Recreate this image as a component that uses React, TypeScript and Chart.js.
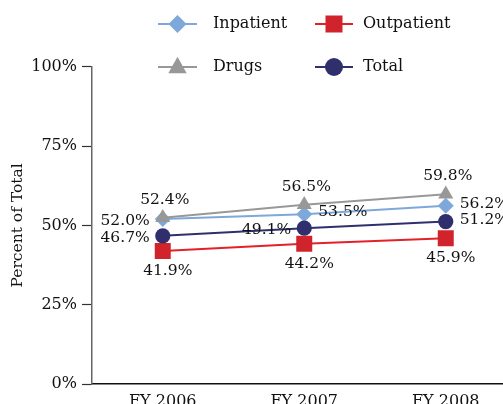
import React, { useEffect, useRef } from 'react';
import { Chart, registerables } from 'chart.js';

Chart.register(...registerables);

const categories = ['FY 2006', 'FY 2007', 'FY 2008'];
const seriesNames = ['Inpatient', 'Outpatient', 'Drugs', 'Total'];
const inpatient = [52.0, 53.5, 56.2];
const outpatient = [41.9, 44.2, 45.9];
const drugs = [52.4, 56.5, 59.8];
const total = [46.7, 49.1, 51.2];
const inpatientLabelPos = ['left', 'right', 'right'];
const outpatientLabelPos = ['below', 'below', 'below'];
const drugsLabelPos = ['above', 'above', 'above'];
const totalLabelPos = ['left', 'left', 'right'];
const yMin = 0;
const yMax = 100;
const yStep = 25;

const FONT = 'DejaVu Serif';
const TEXT = '#111111';
const C_IN = '#7ea8da';
const C_OUT_LINE = '#e52029';
const C_OUT = '#d0232c';
const C_DRUG = '#989898';
const C_TOT = '#2f2f6e';

const W = 530;
const H = 420;

function drawMarker(ctx: CanvasRenderingContext2D, style: string, x: number, y: number, r: number, color: string) {
  ctx.save();
  ctx.fillStyle = color;
  ctx.beginPath();
  if (style === 'circle') {
    ctx.arc(x, y, r, 0, Math.PI * 2);
  } else if (style === 'rect') {
    ctx.rect(x - r, y - r, 2 * r, 2 * r);
  } else if (style === 'rectRot') {
    ctx.moveTo(x - r, y);
    ctx.lineTo(x, y - r);
    ctx.lineTo(x + r, y);
    ctx.lineTo(x, y + r);
    ctx.closePath();
  } else if (style === 'triangle') {
    ctx.moveTo(x, y - r);
    ctx.lineTo(x + r, y + r * 0.78);
    ctx.lineTo(x - r, y + r * 0.78);
    ctx.closePath();
  }
  ctx.fill();
  ctx.restore();
}

const labelPlugin = {
  id: 'valueLabels',
  afterDatasetsDraw(chart: any) {
    const ctx = chart.ctx as CanvasRenderingContext2D;
    ctx.save();
    ctx.font = `15.5px "${FONT}"`;
    ctx.fillStyle = TEXT;
    ctx.textBaseline = 'middle';
    chart.data.datasets.forEach((ds: any, di: number) => {
      const meta = chart.getDatasetMeta(di);
      meta.data.forEach((pt: any, i: number) => {
        const v = ds.data[i] as number;
        const txt = v.toFixed(1) + '%';
        const pos = ds.labelPos[i];
        let x = pt.x;
        let y = pt.y;
        if (pos === 'above') {
          ctx.textAlign = 'center';
          x += 2;
          y -= 18;
        } else if (pos === 'below') {
          ctx.textAlign = 'center';
          x += 5;
          y += 20;
        } else if (pos === 'left') {
          ctx.textAlign = 'right';
          x -= 13;
          y += 2;
        } else {
          ctx.textAlign = 'left';
          x += 14;
          y -= 2;
        }
        ctx.fillText(txt, x, y);
      });
    });
    ctx.restore();
  },
};

const legendPlugin = {
  id: 'customLegend',
  afterDraw(chart: any) {
    const ctx = chart.ctx as CanvasRenderingContext2D;
    const cols = [
      { lx0: 158, lx1: 197, mx: 177.5, tx: 213 },
      { lx0: 315, lx1: 353, mx: 334, tx: 363 },
    ];
    const rows = [24, 67];
    const legendSizes: Record<string, number> = { rectRot: 9, rect: 8.5, circle: 9, triangle: 9.2 };
    ctx.save();
    chart.data.datasets.forEach((ds: any, i: number) => {
      const c = cols[i % 2];
      const y = rows[Math.floor(i / 2)];
      ctx.strokeStyle = ds.borderColor;
      ctx.lineWidth = 2;
      ctx.beginPath();
      ctx.moveTo(c.lx0, y);
      ctx.lineTo(c.lx1, y);
      ctx.stroke();
      const style = ds.pointStyle;
      const my = style === 'triangle' ? y - 1 : y;
      drawMarker(ctx, style, c.mx, my, legendSizes[style], ds.pointBackgroundColor);
      ctx.font = `16px "${FONT}"`;
      ctx.fillStyle = TEXT;
      ctx.textAlign = 'left';
      ctx.textBaseline = 'middle';
      ctx.fillText(ds.label, c.tx, y);
    });
    ctx.restore();
  },
};

export default function App() {
  const ref = useRef<HTMLCanvasElement | null>(null);

  useEffect(() => {
    if (!ref.current) return;
    const mk = (label: string, data: number[], pos: string[], line: string, fill: string, style: string, radius: number, order: number) => ({
      label,
      data,
      labelPos: pos,
      borderColor: line,
      backgroundColor: fill,
      pointBackgroundColor: fill,
      pointBorderColor: fill,
      pointBorderWidth: 0,
      pointStyle: style,
      pointRadius: radius,
      pointHoverRadius: radius,
      borderWidth: 2,
      tension: 0,
      order,
    });
    const chart = new Chart(ref.current, {
      type: 'line',
      data: {
        labels: categories,
        datasets: [
          mk(seriesNames[0], inpatient, inpatientLabelPos, C_IN, C_IN, 'rectRot', 8, 2),
          mk(seriesNames[1], outpatient, outpatientLabelPos, C_OUT_LINE, C_OUT, 'rect', 11.3, 3),
          mk(seriesNames[2], drugs, drugsLabelPos, C_DRUG, C_DRUG, 'triangle', 8.7, 1),
          mk(seriesNames[3], total, totalLabelPos, C_TOT, C_TOT, 'circle', 7.6, 0),
        ] as any,
      },
      options: {
        animation: false,
        responsive: false,
        maintainAspectRatio: false,
        layout: { padding: { top: 66.7, left: 0, right: W - 516.5, bottom: 0 } },
        plugins: {
          legend: { display: false },
          tooltip: { enabled: false },
        },
        scales: {
          x: {
            type: 'category',
            offset: true,
            grid: { display: false, drawTicks: false },
            border: { display: true, color: '#111', width: 1.5 },
            ticks: { font: { family: FONT, size: 16 }, color: TEXT, padding: 8, maxRotation: 0 },
            afterFit: (s: any) => { s.height = H - 384; },
          },
          y: {
            min: yMin,
            max: yMax,
            ticks: {
              stepSize: yStep,
              font: { family: FONT, size: 16 },
              color: TEXT,
              padding: 5,
              callback: (v: any) => v + '%',
            },
            grid: { drawOnChartArea: false, drawTicks: true, tickLength: 10, tickColor: '#333', tickWidth: 1.2, color: '#333' },
            border: { display: true, color: '#666', width: 1.5 },
            title: {
              display: true,
              text: 'Percent of Total',
              font: { family: FONT, size: 15.5 },
              color: TEXT,
              padding: { top: 9, bottom: 0 },
            },
            afterFit: (s: any) => { s.width = 92; },
          },
        },
      } as any,
      plugins: [labelPlugin, legendPlugin],
    });
    return () => chart.destroy();
  }, []);

  return (
    <div style={{ position: 'fixed', left: 0, top: 0, width: 503, height: 404, overflow: 'hidden', background: '#fff' }}>
      <canvas ref={ref} width={W} height={H} style={{ position: 'absolute', left: 0, top: 0, width: W, height: H }} />
    </div>
  );
}
